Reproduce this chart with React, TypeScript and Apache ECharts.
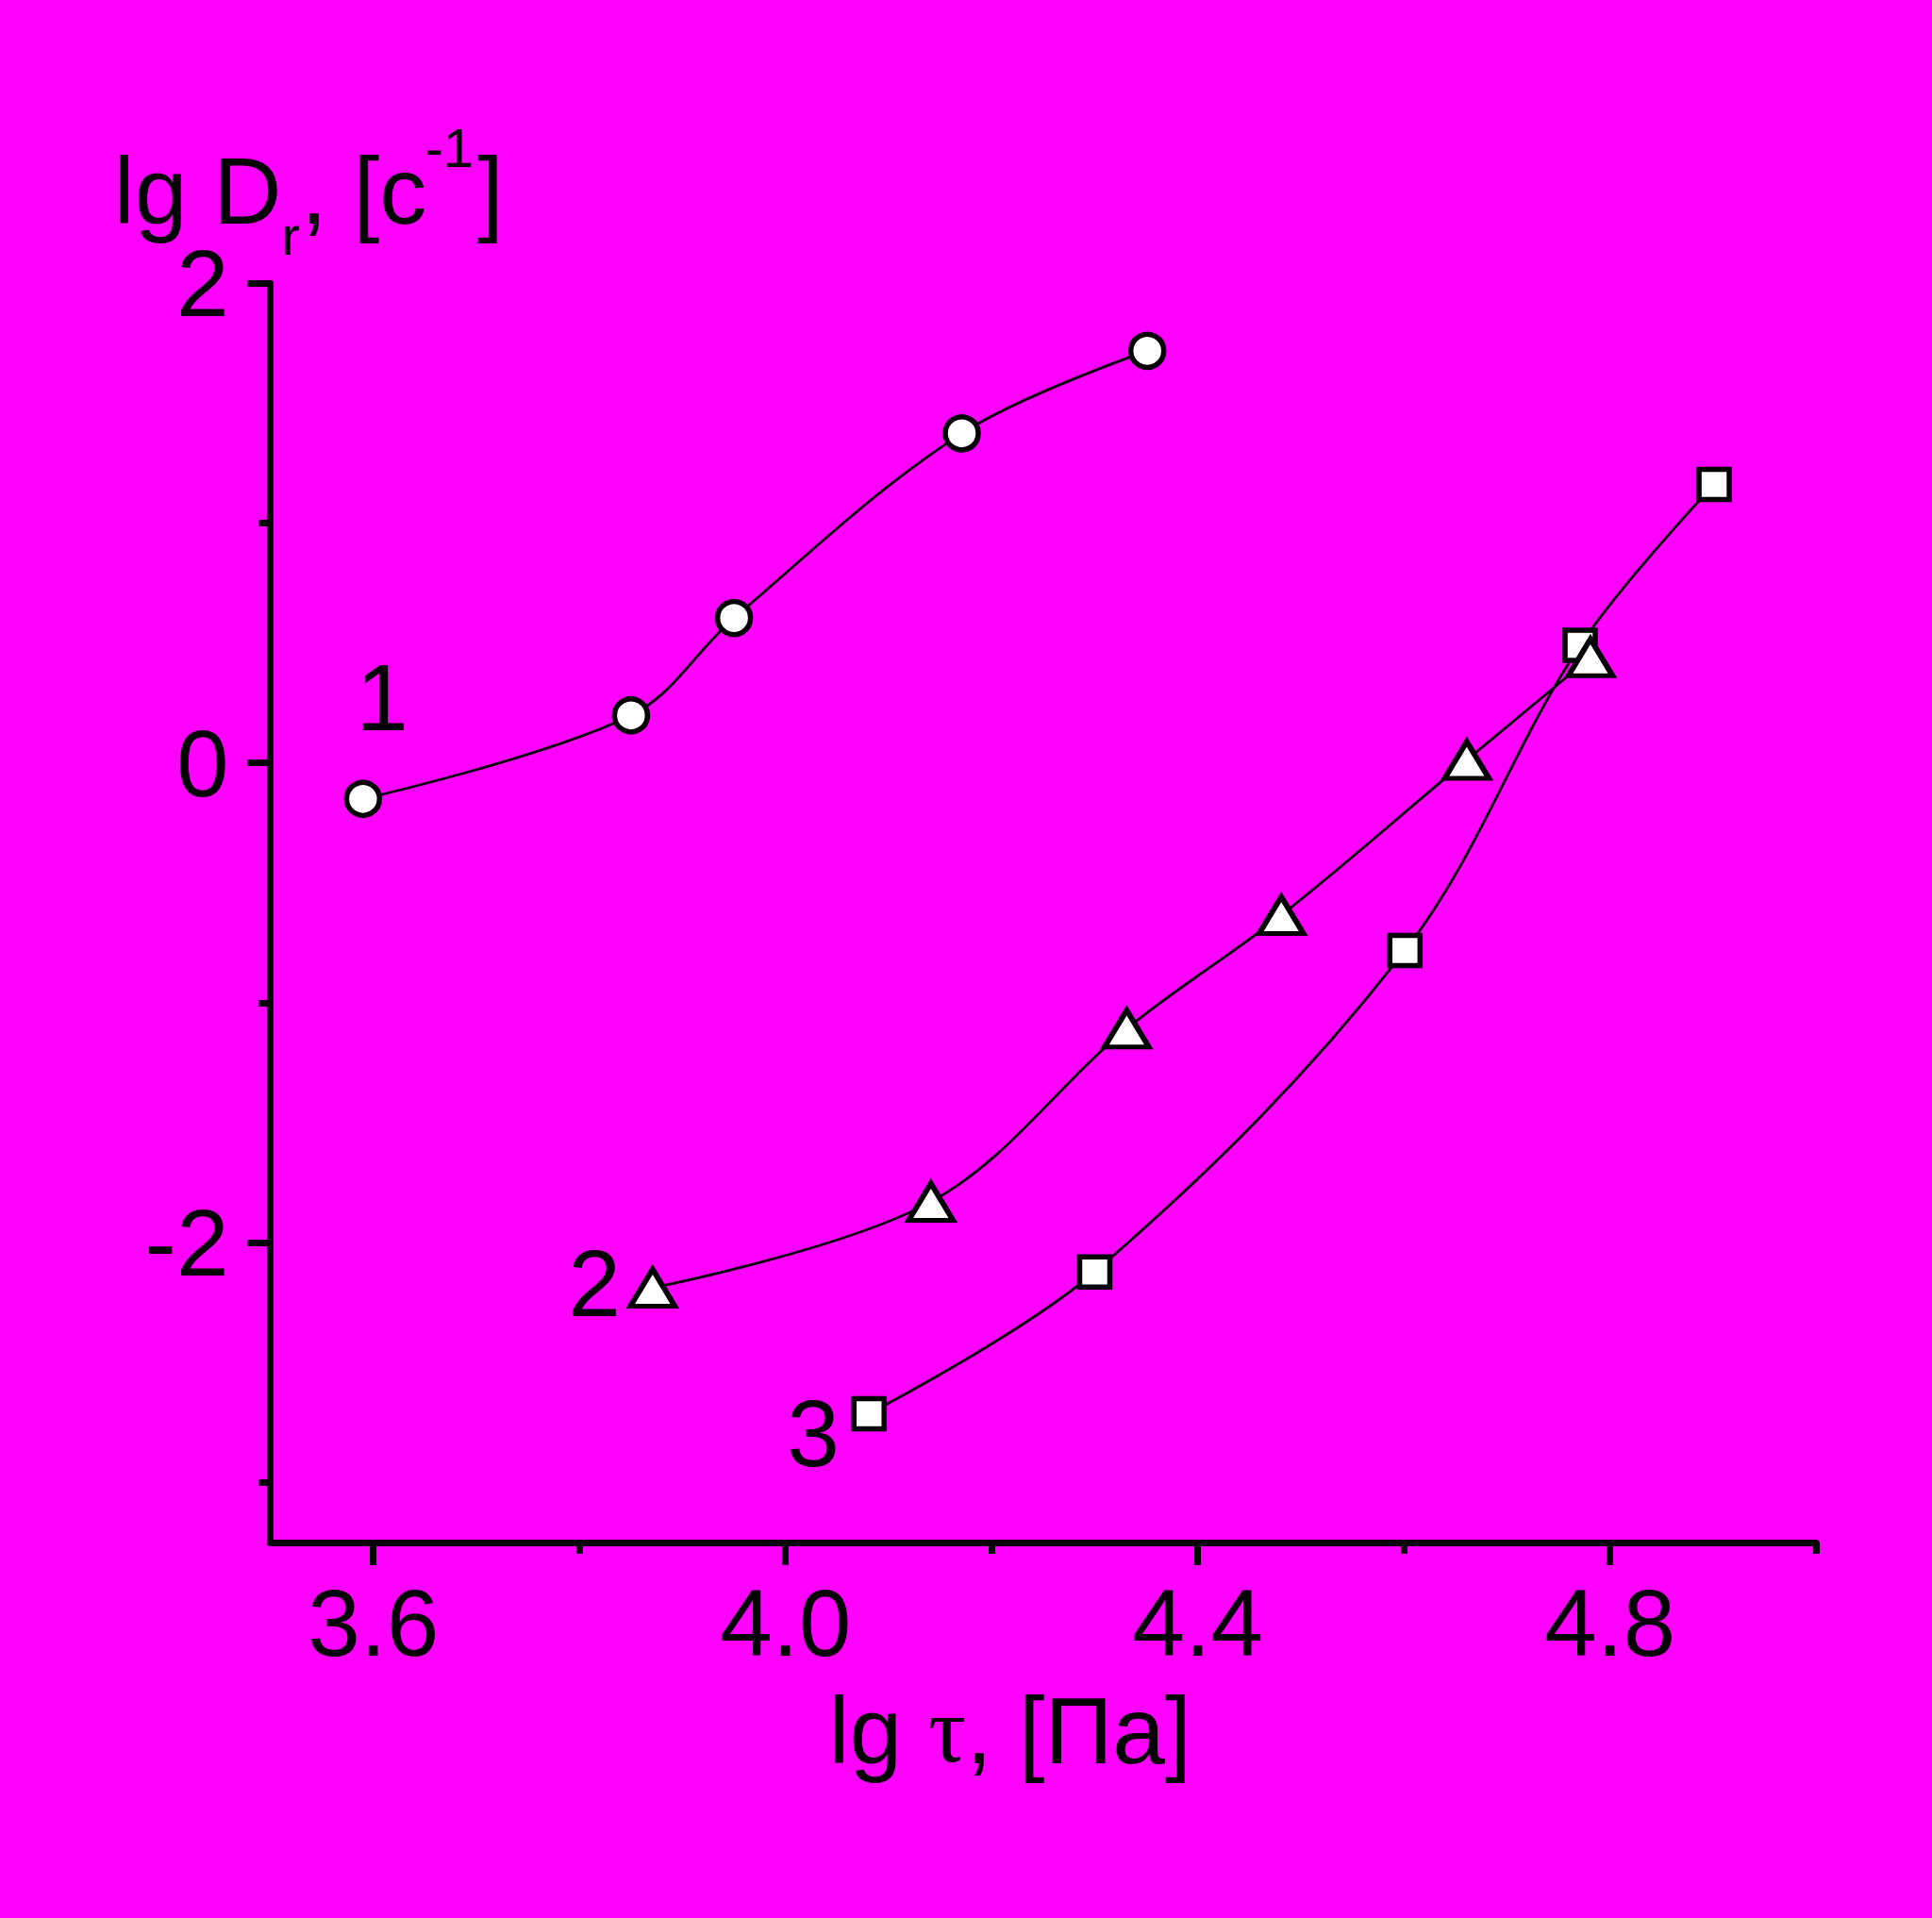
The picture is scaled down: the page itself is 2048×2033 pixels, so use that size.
import React, { useEffect, useRef } from "react";
import * as echarts from "echarts";

// ---- data ----
const xMajorTicks = [3.6, 4.0, 4.4, 4.8];
const xMinorTicks = [3.8, 4.2, 4.6, 5.0];
const yMajorTicks = [2, 0, -2];
const yMinorTicks = [1, -1, -3];

const curve1X = [3.59, 3.85, 3.95, 4.171, 4.351];
const curve1Y = [-0.15, 0.198, 0.604, 1.374, 1.718];

const curve2X = [3.871, 4.141, 4.331, 4.481, 4.661, 4.781];
const curve2Y = [-2.188, -1.83, -1.108, -0.635, 0.012, 0.44];

const curve3X = [4.081, 4.3, 4.601, 4.771, 4.901];
const curve3Y = [-2.713, -2.122, -0.782, 0.49, 1.161];

const curveNames = ["1", "2", "3"];

const X_MIN = 3.5;
const X_MAX = 5.0;
const Y_MIN = -3.25;
const Y_MAX = 2;

const SANS = "'Liberation Sans', Arial, sans-serif";
const SERIF = "'Liberation Serif', 'Times New Roman', serif";
const BG = "#FF00FF";

const pairs = (xs: number[], ys: number[]) => xs.map((x, i) => [x, ys[i]]);

export default function App() {
  const ref = useRef<HTMLDivElement>(null);

  useEffect(() => {
    if (!ref.current) return;
    const chart = echarts.init(ref.current, null, { renderer: "svg" });

    const lineStyle = { color: "#000", width: 2.8 };
    const itemStyle = { color: "#fff", borderColor: "#000", borderWidth: 5.5 };
    const AXW = 7;

    const txt = (
      text: string,
      x: number,
      y: number,
      fontSize: number,
      align: string = "left",
      family: string = SANS
    ) => ({
      type: "text",
      x,
      y,
      z: 100,
      style: {
        text,
        fontSize,
        fontFamily: family,
        fill: "#000",
        align,
        verticalAlign: "middle",
        lineHeight: Math.round(fontSize * 0.8),
      },
    });

    chart.setOption({
      animation: false,
      backgroundColor: BG,
      grid: {
        left: 286.5,
        top: 300.2,
        width: 1638.7,
        height: 1334.7,
        containLabel: false,
        outerBoundsMode: "none",
      },
      xAxis: [
        {
          type: "value",
          min: X_MIN,
          max: X_MAX,
          splitLine: { show: false },
          axisLine: { show: true, onZero: false, lineStyle: { color: "#000", width: AXW } },
          axisTick: {
            show: true,
            length: 24,
            lineStyle: { color: "#000", width: AXW },
            customValues: xMajorTicks,
          },
          axisLabel: {
            show: true,
            customValues: xMajorTicks,
            formatter: (v: number) => v.toFixed(1),
            fontSize: 100,
            fontFamily: SANS,
            color: "#000",
            margin: 35,
          },
        },
        {
          type: "value",
          min: X_MIN,
          max: X_MAX,
          position: "bottom",
          splitLine: { show: false },
          axisLine: { show: false, onZero: false },
          axisTick: {
            show: true,
            length: 12,
            lineStyle: { color: "#000", width: AXW },
            customValues: xMinorTicks,
          },
          axisLabel: { show: false },
        },
      ],
      yAxis: [
        {
          type: "value",
          min: Y_MIN,
          max: Y_MAX,
          splitLine: { show: false },
          axisLine: { show: true, onZero: false, lineStyle: { color: "#000", width: AXW } },
          axisTick: {
            show: true,
            length: 24,
            lineStyle: { color: "#000", width: AXW },
            customValues: yMajorTicks,
          },
          axisLabel: {
            show: true,
            customValues: yMajorTicks,
            formatter: (v: number) => String(v),
            fontSize: 100,
            fontFamily: SANS,
            color: "#000",
            margin: 44,
          },
        },
        {
          type: "value",
          min: Y_MIN,
          max: Y_MAX,
          position: "left",
          splitLine: { show: false },
          axisLine: { show: false, onZero: false },
          axisTick: {
            show: true,
            length: 12,
            lineStyle: { color: "#000", width: AXW },
            customValues: yMinorTicks,
          },
          axisLabel: { show: false },
        },
      ],
      series: [
        {
          name: curveNames[0],
          type: "line",
          data: pairs(curve1X, curve1Y),
          smooth: 0.35,
          symbol: "circle",
          symbolSize: 35,
          showAllSymbol: true,
          lineStyle,
          itemStyle,
        },
        {
          name: curveNames[2],
          type: "line",
          data: pairs(curve3X, curve3Y),
          smooth: 0.35,
          symbol: "rect",
          symbolSize: 32,
          showAllSymbol: true,
          lineStyle,
          itemStyle,
        },
        {
          name: curveNames[1],
          type: "line",
          data: pairs(curve2X, curve2Y),
          smooth: 0.35,
          symbol: "triangle",
          symbolSize: [47, 39],
          showAllSymbol: true,
          lineStyle,
          itemStyle,
        },
      ],
      graphic: [
        // y-axis title: lg D_r, [c^-1]
        txt("lg D", 120.6, 202.4, 100),
        txt("r", 298.5, 249.9, 58),
        txt(", [c", 319, 202.4, 100),
        txt("-1", 450.4, 156.6, 58),
        txt("]", 506, 202.4, 100),
        // x-axis title: lg τ, [Па]
        {
          type: "text",
          x: 878.3,
          y: 1833.7,
          z: 100,
          style: {
            text: "{a|lg }{t|τ}{a|, [Па]}",
            fill: "#000",
            align: "left",
            verticalAlign: "middle",
            rich: {
              a: { fontSize: 100, fontFamily: SANS, fill: "#000" },
              t: { fontSize: 100, fontFamily: SERIF, fill: "#000" },
            },
          },
        },
        // curve numbers
        txt(curveNames[0], 405, 738.5, 100, "center"),
        txt(curveNames[1], 630, 1360, 100, "center"),
        txt(curveNames[2], 862, 1518.5, 100, "center"),
      ],
    });

    return () => chart.dispose();
  }, []);

  return (
    <div
      ref={ref}
      style={{
        position: "absolute",
        left: 0,
        top: 0,
        width: 2048,
        height: 2033,
        background: BG,
      }}
    />
  );
}
